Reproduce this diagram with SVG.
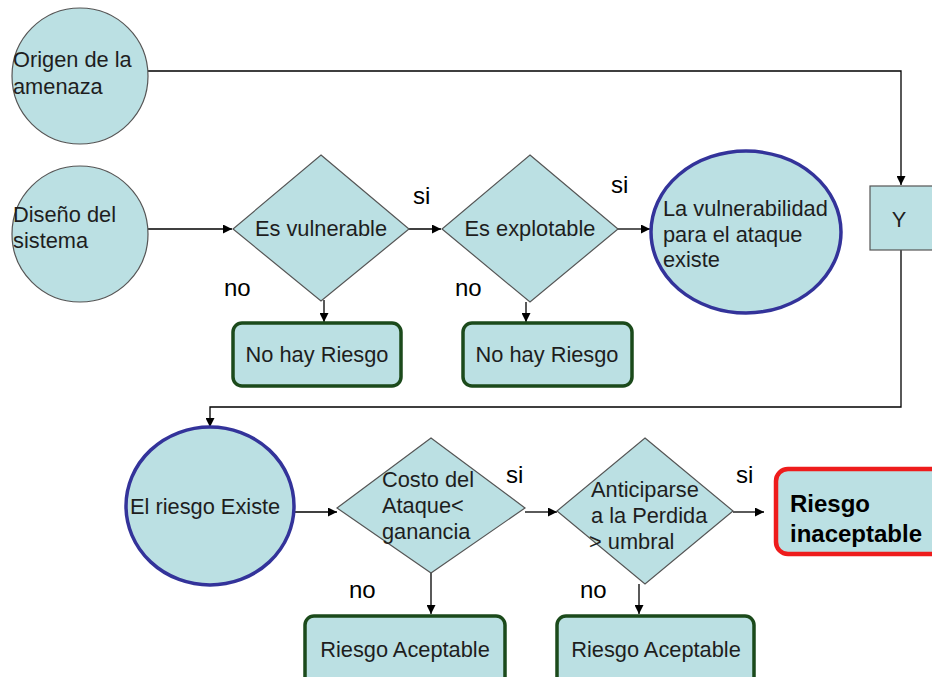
<svg xmlns="http://www.w3.org/2000/svg" width="932" height="677" viewBox="0 0 932 677">
  <defs>
    <style>
      .n { fill: #bbe0e3; stroke: #555; stroke-width: 1.2; }
      .blue { fill: #bbe0e3; stroke: #33339a; stroke-width: 3.5; }
      .ok { fill: #bbe0e3; stroke: #1b4a1b; stroke-width: 3.5; }
      .bad { fill: #bbe0e3; stroke: #ee1c1c; stroke-width: 4.5; }
      .t { font-family: "Liberation Sans", Arial, sans-serif; font-size: 21.8px; fill: #1e1e1e; }
      .lbl { font-family: "Liberation Sans", Arial, sans-serif; font-size: 24px; fill: #000; }
      .big { font-family: "Liberation Sans", Arial, sans-serif; font-size: 24px; font-weight: bold; fill: #000; }
      .c { fill: none; stroke: #000; stroke-width: 1.3; }
    </style>
    <marker id="arr" viewBox="0 0 10 10" refX="10" refY="5" markerWidth="9" markerHeight="9" markerUnits="userSpaceOnUse" orient="auto">
      <path d="M0,0 L10,5 L0,10 z" fill="#000"/>
    </marker>
  </defs>
  <rect width="932" height="677" fill="#fff"/>

  <!-- connectors -->
  <g id="connectors">
    <path class="c" d="M148,71 H901 V185" marker-end="url(#arr)"/>
    <path class="c" d="M148,229 H232" marker-end="url(#arr)"/>
    <path class="c" d="M408,229 H441" marker-end="url(#arr)"/>
    <path class="c" d="M618,229 H650" marker-end="url(#arr)"/>
    <path class="c" d="M324,300 V322" marker-end="url(#arr)"/>
    <path class="c" d="M526,302 V322" marker-end="url(#arr)"/>
    <path class="c" d="M901,250 V407 H210 V427" marker-end="url(#arr)"/>
    <path class="c" d="M295,512 H337" marker-end="url(#arr)"/>
    <path class="c" d="M525,512 H557" marker-end="url(#arr)"/>
    <path class="c" d="M733,512 H764" marker-end="url(#arr)"/>
    <path class="c" d="M431,573 V614" marker-end="url(#arr)"/>
    <path class="c" d="M639,584 V614" marker-end="url(#arr)"/>
  </g>

  <!-- branch labels -->
  <g id="labels">
    <text class="lbl" x="413" y="204">si</text>
    <text class="lbl" x="611" y="193">si</text>
    <text class="lbl" x="224" y="296">no</text>
    <text class="lbl" x="455" y="296">no</text>
    <text class="lbl" x="506" y="483">si</text>
    <text class="lbl" x="736" y="483">si</text>
    <text class="lbl" x="349" y="598">no</text>
    <text class="lbl" x="580" y="598">no</text>
  </g>

  <g id="origen">
    <ellipse class="n" cx="80" cy="76" rx="68" ry="68"/>
    <text class="t" x="13" y="67">Origen de la</text>
    <text class="t" x="13" y="94">amenaza</text>
  </g>

  <g id="diseno">
    <ellipse class="n" cx="80" cy="234" rx="68" ry="68"/>
    <text class="t" x="13" y="222">Diseño del</text>
    <text class="t" x="13" y="248">sistema</text>
  </g>

  <g id="vulnerable">
    <polygon class="n" points="321,155 409,229 321,301 233,229"/>
    <text class="t" x="321" y="236" text-anchor="middle">Es vulnerable</text>
  </g>

  <g id="explotable">
    <polygon class="n" points="530,155 618,229 530,302 442,229"/>
    <text class="t" x="530" y="236" text-anchor="middle">Es explotable</text>
  </g>

  <g id="vulnerabilidad">
    <ellipse class="blue" cx="746" cy="232" rx="95" ry="81"/>
    <text class="t" x="663" y="216">La vulnerabilidad</text>
    <text class="t" x="663" y="242">para el ataque</text>
    <text class="t" x="663" y="267">existe</text>
  </g>

  <g id="y">
    <rect class="n" x="870" y="186" width="70" height="64"/>
    <text class="t" x="899" y="227" text-anchor="middle">Y</text>
  </g>

  <g id="no-riesgo-1">
    <rect class="ok" x="233" y="323" width="168" height="63" rx="9"/>
    <text class="t" x="317" y="362" text-anchor="middle">No hay Riesgo</text>
  </g>

  <g id="no-riesgo-2">
    <rect class="ok" x="463" y="323" width="169" height="63" rx="9"/>
    <text class="t" x="547" y="362" text-anchor="middle">No hay Riesgo</text>
  </g>

  <g id="riesgo-existe">
    <ellipse class="blue" cx="210" cy="506" rx="84" ry="79"/>
    <text class="t" x="130" y="514">El riesgo Existe</text>
  </g>

  <g id="costo">
    <polygon class="n" points="431,438 525,508 431,573 337,508"/>
    <text class="t" x="382" y="487">Costo del</text>
    <text class="t" x="382" y="513">Ataque&lt;</text>
    <text class="t" x="382" y="539">ganancia</text>
  </g>

  <g id="anticiparse">
    <polygon class="n" points="645,438 733,511 645,584 557,511"/>
    <text class="t" x="591" y="497">Anticiparse</text>
    <text class="t" x="591" y="523">a la Perdida</text>
    <text class="t" x="589" y="549">&gt; umbral</text>
  </g>

  <g id="inaceptable">
    <rect class="bad" x="776" y="469" width="180" height="85" rx="12"/>
    <text class="big" x="790" y="512">Riesgo</text>
    <text class="big" x="790" y="542">inaceptable</text>
  </g>

  <g id="aceptable-1">
    <rect class="ok" x="305" y="616" width="200" height="80" rx="9"/>
    <text class="t" x="405" y="657" text-anchor="middle">Riesgo Aceptable</text>
  </g>

  <g id="aceptable-2">
    <rect class="ok" x="557" y="616" width="197" height="80" rx="9"/>
    <text class="t" x="656" y="657" text-anchor="middle">Riesgo Aceptable</text>
  </g>
</svg>
